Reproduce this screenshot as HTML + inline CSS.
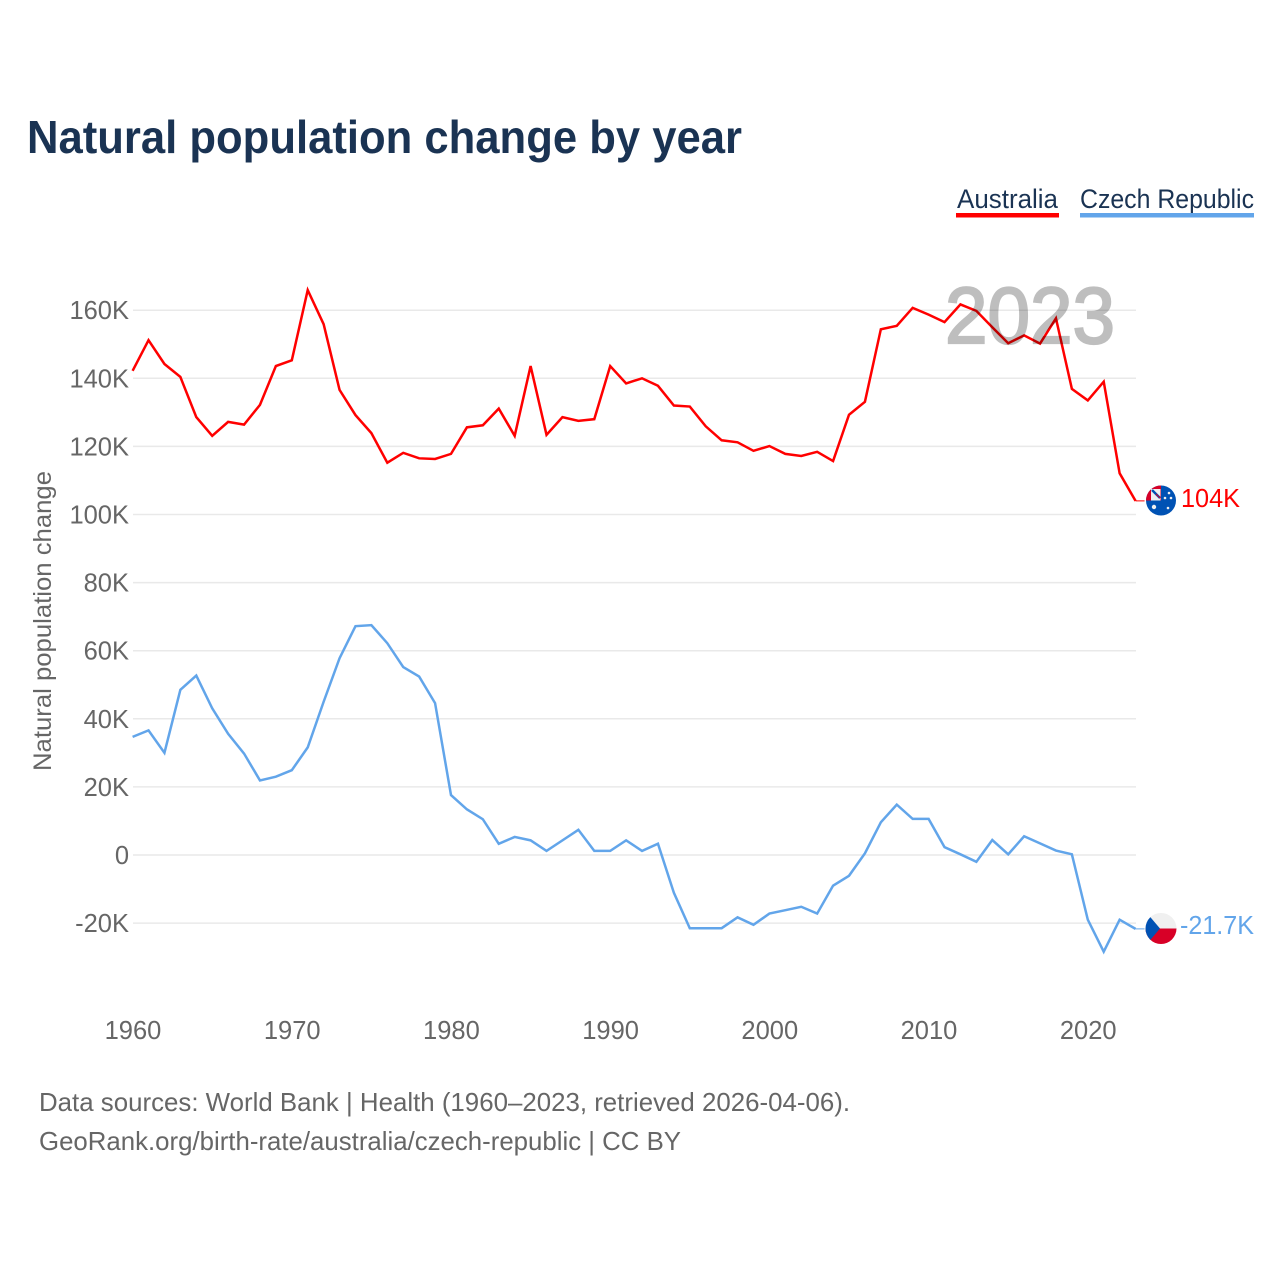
<!DOCTYPE html>
<html lang="en">
<head>
<meta charset="utf-8">
<title>Natural population change by year</title>
<style>
html,body{margin:0;padding:0;background:#fff;}
svg{display:block;font-family:"Liberation Sans",sans-serif;}
</style>
</head>
<body>
<svg id="chart" xmlns="http://www.w3.org/2000/svg" width="1280" height="1280" viewBox="0 0 1280 1280">
  <rect width="1280" height="1280" fill="#ffffff"/>
  <text x="27" y="153" font-size="46" font-weight="700" fill="#1a3353" textLength="715" lengthAdjust="spacingAndGlyphs">Natural population change by year</text>

  <g>
    <text x="957" y="208" font-size="27" fill="#1a3353" textLength="101" lengthAdjust="spacingAndGlyphs">Australia</text>
    <rect x="956" y="213" width="103" height="4.5" fill="#ff0000"/>
  </g>
  <g>
    <text x="1080" y="208" font-size="27" fill="#1a3353" textLength="174" lengthAdjust="spacingAndGlyphs">Czech Republic</text>
    <rect x="1080" y="213" width="174" height="4.5" fill="#62a5ea"/>
  </g>

  <g id="grid"></g>
  <g id="yticks"></g>
  <g id="xticks"></g>
  <text transform="translate(51,771) rotate(-90)" x="0" y="0" font-size="25" fill="#666666" textLength="300" lengthAdjust="spacingAndGlyphs">Natural population change</text>

  <g id="series"></g>

  <text x="1115" y="343" text-anchor="end" font-size="80" font-weight="400" fill="#000000" stroke="#000000" stroke-width="2.2" opacity="0.25" textLength="170" lengthAdjust="spacingAndGlyphs">2023</text>

  <defs>
    <clipPath id="clip-au"><circle cx="1161" cy="500.5" r="15"/></clipPath>
    <clipPath id="clip-cz"><circle cx="1161" cy="928.5" r="15.5"/></clipPath>
  </defs>

  <g clip-path="url(#clip-au)">
    <rect x="1145" y="485" width="32" height="32" fill="#0052b4"/>
    <rect x="1145" y="485" width="16" height="15.5" fill="#d80027"/>
    <rect x="1151" y="489" width="9.5" height="11.5" fill="#f0f0f0"/>
    <path d="M1152 490 L1160 498" stroke="#0052b4" stroke-width="2.4" fill="none"/>
    <path d="M1156 494 L1160 498" stroke="#d80027" stroke-width="1" fill="none"/>
    <circle cx="1154" cy="507" r="2.2" fill="#f0f0f0"/>
    <circle cx="1169" cy="493" r="1.3" fill="#f0f0f0"/>
    <circle cx="1171" cy="498" r="1.3" fill="#f0f0f0"/>
    <circle cx="1165" cy="498" r="1.3" fill="#f0f0f0"/>
    <circle cx="1168" cy="508" r="1.3" fill="#f0f0f0"/>
  </g>
  <g clip-path="url(#clip-cz)">
    <rect x="1145" y="912" width="32" height="17" fill="#f0f0f0"/>
    <rect x="1145" y="928.5" width="32" height="17" fill="#d80027"/>
    <path d="M1145 912 L1146 912 L1160 928.5 L1146 945 L1145 945 Z" fill="#0052b4"/>
  </g>

  <text x="1181" y="507" font-size="25.5" fill="#ff0000" textLength="59" lengthAdjust="spacingAndGlyphs">104K</text>
  <text x="1180" y="934" font-size="25.5" fill="#62a5ea" textLength="74" lengthAdjust="spacingAndGlyphs">-21.7K</text>

  <g>
    <text x="39" y="1111" font-size="26" fill="#666666" textLength="811" lengthAdjust="spacingAndGlyphs">Data sources: World Bank | Health (1960–2023, retrieved 2026-04-06).</text>
    <text x="39" y="1150" font-size="26" fill="#666666" textLength="642" lengthAdjust="spacingAndGlyphs">GeoRank.org/birth-rate/australia/czech-republic | CC BY</text>
  </g>
</svg>
<script>
const startYear = 1960;
const yTickValues = [-20, 0, 20, 40, 60, 80, 100, 120, 140, 160];
const yTickLabels = ["-20K", "0", "20K", "40K", "60K", "80K", "100K", "120K", "140K", "160K"];
const xTickYears = [1960, 1970, 1980, 1990, 2000, 2010, 2020];
const australia = [142.2,151.2,144.2,140.4,128.6,123.1,127.2,126.4,132.2,143.6,145.3,165.9,155.9,136.6,129.2,123.9,115.2,118.1,116.5,116.3,117.8,125.6,126.2,131.1,123.1,143.6,123.4,128.6,127.5,128.0,143.6,138.5,140.0,137.8,132.0,131.7,125.9,121.8,121.2,118.7,120.1,117.8,117.2,118.4,115.7,129.3,133.1,154.4,155.4,160.7,158.7,156.5,161.7,159.8,155.0,150.3,152.6,150.2,157.6,136.9,133.5,139.0,112.1,104.0];
const czechRepublic = [34.7,36.6,30.0,48.5,52.7,43.1,35.6,29.8,21.9,23.0,24.9,31.6,45.0,57.8,67.2,67.5,62.2,55.2,52.4,44.6,17.6,13.4,10.5,3.3,5.3,4.3,1.2,4.3,7.4,1.2,1.2,4.3,1.2,3.3,-11.1,-21.5,-21.5,-21.5,-18.3,-20.5,-17.2,-16.2,-15.2,-17.2,-9.0,-6.1,0.5,9.6,14.8,10.6,10.6,2.3,0.2,-2.0,4.4,0.2,5.5,3.4,1.3,0.2,-19.0,-28.4,-19.0,-21.7];

const NS = "http://www.w3.org/2000/svg";
function xScale(year) { return 132.6 + (year - startYear) * 15.92; }
function yScale(v) { return 855 - v * 3.405; }
function make(tag, attrs, parent, text) {
  const el = document.createElementNS(NS, tag);
  for (const k in attrs) el.setAttribute(k, attrs[k]);
  if (text !== undefined) el.textContent = text;
  parent.appendChild(el);
  return el;
}

const grid = document.getElementById("grid");
const yticks = document.getElementById("yticks");
const xticks = document.getElementById("xticks");
const seriesGroup = document.getElementById("series");

yTickValues.forEach(function (v, i) {
  const line = make("line", {x1: 133, x2: 1136, y1: yScale(v), y2: yScale(v), stroke: "#e9e9e9", "stroke-width": 1.5}, grid);
  
  
  const label = make("text", {x: 129, y: yScale(v) + 9, "text-anchor": "end", "font-size": 25.5, fill: "#666666"}, yticks, yTickLabels[i]);
  
  
});

xTickYears.forEach(function (yr) {
  const label = make("text", {x: xScale(yr) + 0.4, y: 1039, "text-anchor": "middle", "font-size": 25.5, fill: "#666666"}, xticks, String(yr));
  
  
});

function pathFor(values) {
  return values.map(function (v, i) {
    return (i ? "L" : "M") + xScale(startYear + i).toFixed(2) + " " + yScale(v).toFixed(2);
  }).join(" ");
}
function lastPoint(values) {
  const i = values.length - 1;
  return {x: xScale(startYear + i), y: yScale(values[i])};
}

const ausLine = make("path", {d: pathFor(australia), fill: "none", stroke: "#ff0000", "stroke-width": 2.5, "stroke-linejoin": "miter"}, seriesGroup);


const czLine = make("path", {d: pathFor(czechRepublic), fill: "none", stroke: "#62a5ea", "stroke-width": 2.5, "stroke-linejoin": "miter"}, seriesGroup);



const ausEnd = lastPoint(australia);
const czEnd = lastPoint(czechRepublic);
const ausLeader = make("line", {x1: ausEnd.x, x2: ausEnd.x + 9, y1: ausEnd.y, y2: ausEnd.y, stroke: "#ff0000", "stroke-width": 1}, seriesGroup);


const czLeader = make("line", {x1: czEnd.x, x2: czEnd.x + 9, y1: czEnd.y, y2: czEnd.y, stroke: "#62a5ea", "stroke-width": 1}, seriesGroup);


</script>
</body>
</html>
